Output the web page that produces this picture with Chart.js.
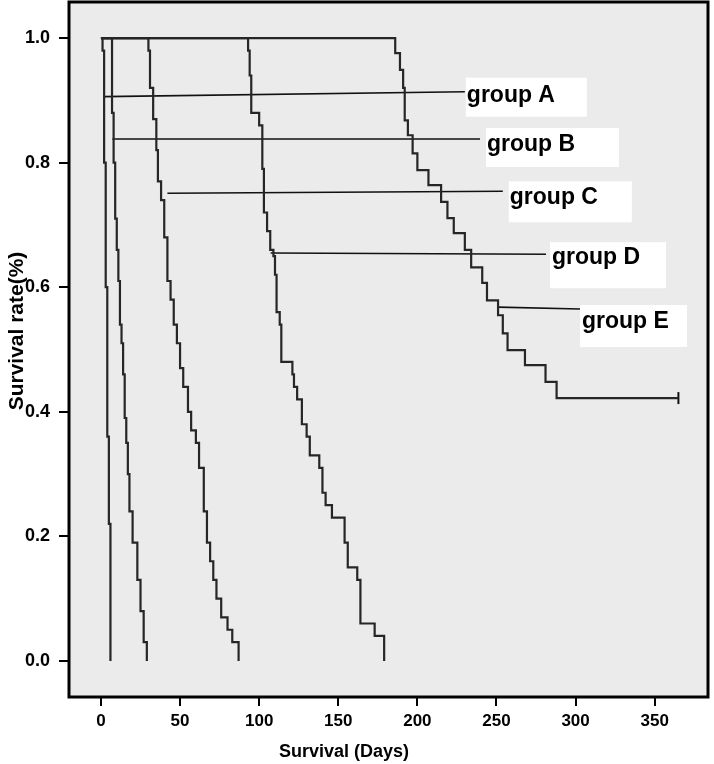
<!DOCTYPE html>
<html>
<head>
<meta charset="utf-8">
<script src="https://cdn.jsdelivr.net/npm/chart.js@4.4.1/dist/chart.umd.min.js"></script>
<style>
  html, body { margin: 0; padding: 0; background: #fff; }
  canvas { display: block; }
</style>
</head>
<body>
<canvas id="survChart" width="714" height="764"></canvas>
<script>
// Kaplan-Meier curves: day of each step, survival after it
const daysA = [0, 1, 2, 3, 4, 5, 6];
const survA = [1, 0.98, 0.80, 0.60, 0.36, 0.22, 0];

const daysB = [0, 7, 8, 9, 10, 11, 12, 13, 14, 15, 16, 17, 18, 20, 23, 25, 27, 29];
const survB = [1, 0.88, 0.80, 0.71, 0.66, 0.61, 0.54, 0.51, 0.46, 0.39, 0.35, 0.30, 0.24, 0.19, 0.13, 0.08, 0.03, 0];

const daysC = [0, 30, 31, 33, 35, 36, 38, 40, 42, 44, 46, 48, 50, 52, 55, 57, 60, 62, 65, 67, 69, 71, 73, 76, 80, 83, 87];
const survC = [1, 0.98, 0.92, 0.87, 0.82, 0.77, 0.74, 0.68, 0.61, 0.58, 0.54, 0.51, 0.47, 0.44, 0.40, 0.37, 0.35, 0.31, 0.24, 0.19, 0.16, 0.13, 0.10, 0.07, 0.05, 0.03, 0];

const daysD = [0, 93, 94, 95, 100, 102, 103, 105, 107, 109, 110, 111, 113, 114, 121, 122, 124, 127, 130, 132, 138, 140, 142, 146, 154, 156, 162, 164, 173, 179];
const survD = [1, 0.98, 0.94, 0.88, 0.86, 0.79, 0.72, 0.69, 0.66, 0.65, 0.62, 0.56, 0.54, 0.48, 0.46, 0.44, 0.42, 0.38, 0.36, 0.33, 0.31, 0.27, 0.25, 0.23, 0.19, 0.15, 0.13, 0.06, 0.04, 0];

const daysE = [0, 186, 189, 191, 192, 194, 197, 200, 207, 215, 219, 223, 230, 234, 241, 244, 251, 254, 257, 268, 281, 288, 365];
const survE = [1, 0.976, 0.949, 0.92, 0.868, 0.844, 0.815, 0.788, 0.764, 0.737, 0.711, 0.687, 0.66, 0.632, 0.607, 0.579, 0.555, 0.526, 0.499, 0.475, 0.448, 0.422, 0.422];

// censored case at the end of group E
const censorDays = [365];
const censorSurv = [0.422];

// label leader lines: from the curve to the label (days, survival)
const groupNames = ['group A', 'group B', 'group C', 'group D', 'group E'];
const leaderX1 = [2, 7.2, 42, 107.3, 251];
const leaderY1 = [0.906, 0.838, 0.751, 0.655, 0.568];
const leaderX2 = [230, 239.6, 254, 281.3, 302.8];
const leaderY2 = [0.914, 0.838, 0.754, 0.653, 0.565];

const dayTicks = [0, 50, 100, 150, 200, 250, 300, 350];
const rateTicks = [0, 0.2, 0.4, 0.6, 0.8, 1.0];

// white label boxes, pixel offsets from the leader's end
const boxLayout = [
  { dx: 1, dy: -14, w: 121, h: 39, tx: 2, ty: 10 },
  { dx: 6, dy: -11, w: 133, h: 39, tx: 7, ty: 12 },
  { dx: 6, dy: -10, w: 123, h: 41, tx: 7, ty: 13 },
  { dx: 4, dy: -12, w: 116, h: 46, tx: 6, ty: 10 },
  { dx: 0, dy: -4, w: 107, h: 42, tx: 2, ty: 19 }
];

const FONT = '"Liberation Sans", Arial, sans-serif';

function toPoints(xs, ys) {
  return xs.map((x, i) => ({ x: x, y: ys[i] }));
}

function curve(xs, ys) {
  return {
    data: toPoints(xs, ys),
    showLine: true,
    stepped: true,
    borderColor: '#262626',
    borderWidth: 2.2,
    pointRadius: 0,
    fill: false
  };
}

const leaderSets = groupNames.map((name, i) => ({
  data: [{ x: leaderX1[i], y: leaderY1[i] }, { x: leaderX2[i], y: leaderY2[i] }],
  showLine: true,
  borderColor: '#111',
  borderWidth: 1.6,
  pointRadius: 0
}));

const plotFrame = {
  id: 'plotFrame',
  beforeDraw(chart) {
    const { ctx, chartArea: a } = chart;
    ctx.save();
    ctx.fillStyle = '#fff';
    ctx.fillRect(0, 0, chart.width, chart.height);
    ctx.fillStyle = '#ebebeb';
    ctx.fillRect(a.left, a.top, a.right - a.left, a.bottom - a.top);
    ctx.restore();
  },
  afterDatasetsDraw(chart) {
    const { ctx } = chart;
    const xs = chart.scales.x, ys = chart.scales.y;
    ctx.save();
    ctx.font = 'bold 23px ' + FONT;
    ctx.textBaseline = 'alphabetic';
    ctx.textAlign = 'left';
    groupNames.forEach((name, i) => {
      const ex = xs.getPixelForValue(leaderX2[i]);
      const ey = ys.getPixelForValue(leaderY2[i]);
      const b = boxLayout[i];
      ctx.fillStyle = '#fff';
      ctx.fillRect(ex + b.dx, ey + b.dy, b.w, b.h);
      ctx.fillStyle = '#000';
      ctx.fillText(name, ex + b.tx, ey + b.ty);
    });
    ctx.restore();
  },
  afterDraw(chart) {
    const { ctx, chartArea: a } = chart;
    ctx.save();
    ctx.strokeStyle = '#000';
    ctx.lineWidth = 3;
    ctx.strokeRect(a.left, a.top, a.right - a.left, a.bottom - a.top);
    // axis titles
    ctx.fillStyle = '#000';
    ctx.textAlign = 'center';
    ctx.textBaseline = 'middle';
    ctx.font = 'bold 18px ' + FONT;
    ctx.fillText('Survival (Days)', 344, 752);
    ctx.font = 'bold 21px ' + FONT;
    ctx.translate(17, 331);
    ctx.rotate(-Math.PI / 2);
    ctx.fillText('Survival rate(%)', 0, 0);
    ctx.restore();
  }
};

new Chart(document.getElementById('survChart'), {
  type: 'scatter',
  data: {
    datasets: [
      curve(daysA, survA),
      curve(daysB, survB),
      curve(daysC, survC),
      curve(daysD, survD),
      curve(daysE, survE),
      ...leaderSets,
      {
        data: toPoints(censorDays, censorSurv),
        showLine: false,
        pointStyle: 'line',
        rotation: 90,
        pointRadius: 6,
        borderColor: '#111',
        borderWidth: 2
      }
    ]
  },
  options: {
    responsive: false,
    animation: false,
    devicePixelRatio: 1,
    layout: { autoPadding: false, padding: { top: 2, right: 6, left: 0, bottom: 0 } },
    plugins: {
      legend: { display: false },
      tooltip: { enabled: false }
    },
    scales: {
      x: {
        type: 'linear',
        min: -20.2,
        max: 383.7,
        afterFit: s => { s.height = 67; s.paddingLeft = 0; s.paddingRight = 0; },
        afterBuildTicks: s => { s.ticks = dayTicks.map(v => ({ value: v })); },
        border: { display: false },
        grid: { drawOnChartArea: false, drawTicks: true, tickLength: 9, color: '#000', lineWidth: 2 },
        ticks: {
          color: '#000',
          autoSkip: false,
          maxRotation: 0,
          padding: 5,
          font: { family: FONT, size: 17, weight: 'bold' }
        }
      },
      y: {
        type: 'linear',
        min: -0.058,
        max: 1.058,
        afterFit: s => { s.width = 69; s.paddingTop = 0; s.paddingBottom = 0; },
        afterBuildTicks: s => { s.ticks = rateTicks.map(v => ({ value: v })); },
        border: { display: false },
        grid: { drawOnChartArea: false, drawTicks: true, tickLength: 10, color: '#000', lineWidth: 2 },
        ticks: {
          color: '#000',
          padding: 9,
          callback: v => Number(v).toFixed(1),
          font: { family: FONT, size: 18, weight: 'bold' }
        }
      }
    }
  },
  plugins: [plotFrame]
});
</script>
</body>
</html>
